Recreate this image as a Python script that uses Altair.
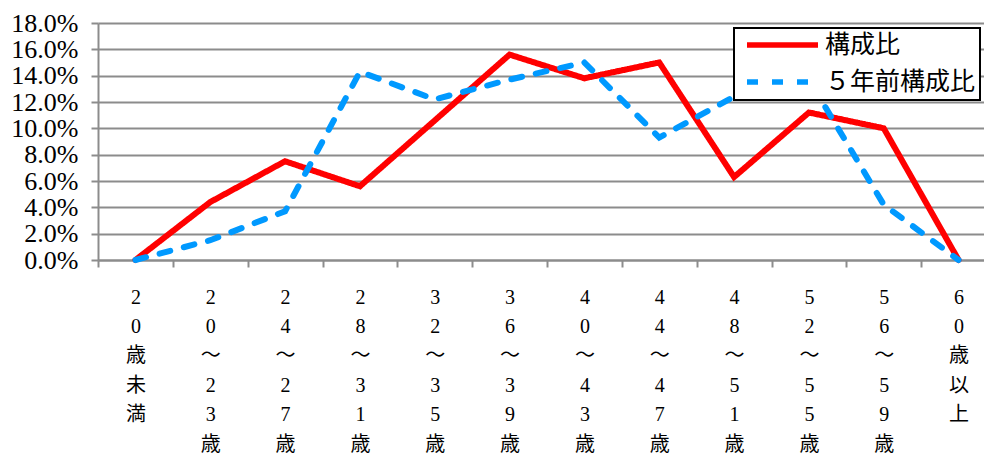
import altair as alt
import pandas as pd

categories = ["20歳未満", "20～23歳", "24～27歳", "28～31歳", "32～35歳", "36～39歳",
              "40～43歳", "44～47歳", "48～51歳", "52～55歳", "56～59歳", "60歳以上"]
series_names = ["構成比", "５年前構成比"]
current = [0.0, 4.4, 7.5, 5.6, 10.6, 15.6, 13.8, 15.0, 6.3, 11.2, 10.0, 0.0]
five_years_ago = [0.0, 1.5, 3.7, 14.3, 12.2, 13.7, 15.0, 9.3, 12.4, 13.7, 4.2, 0.0]
y_ticks = [0.0, 0.02, 0.04, 0.06, 0.08, 0.10, 0.12, 0.14, 0.16, 0.18]

rows = []
for name, vals in zip(series_names, [current, five_years_ago]):
    for c, v in zip(categories, vals):
        rows.append({"cat": c, "series": name, "value": v / 100})
df = pd.DataFrame(rows)

FONT = "Liberation Serif, Noto Sans CJK JP"
GRAY = "#8c8c8c"


def make_legend():
    return alt.Legend(title=None, orient="none", legendX=636, legendY=5,
                      symbolType="M-0.8,0H13.4", symbolSize=100,
                      symbolStrokeWidth=5.5, labelFontSize=25, labelFont=FONT,
                      labelColor="black", labelOffset=61.5, rowPadding=11,
                      padding=4.5, strokeColor="black", fillColor="white",
                      labelLimit=0)


chart = alt.Chart(df).mark_line(strokeWidth=6, strokeCap="round").encode(
    x=alt.X("cat:N", sort=categories, bandPosition=0.5,
            scale=alt.Scale(type="band", range=[0, 898], paddingInner=0, paddingOuter=0),
            axis=alt.Axis(title=None, labelAngle=0, tickBand="extent", grid=False,
                          labelExpr="split(datum.label, '')", labelFont=FONT,
                          labelFontSize=20, labelLineHeight=29.4, labelBaseline="top",
                          labelPadding=20, tickSize=7, labelColor="black")),
    y=alt.Y("value:Q", scale=alt.Scale(domain=[0, 0.18], nice=False, zero=True),
            axis=alt.Axis(title=None, values=y_ticks, format=".1%", labelFont=FONT,
                          labelFontSize=26, labelPadding=13, tickSize=7,
                          labelColor="black", grid=True)),
    color=alt.Color("series:N",
                    scale=alt.Scale(domain=series_names, range=["#FF0000", "#0099FF"]),
                    legend=make_legend()),
    strokeDash=alt.StrokeDash("series:N",
                              scale=alt.Scale(domain=series_names, range=[[1, 0], [11, 14]]),
                              legend=make_legend()),
).properties(
    width=886, height=237,
    autosize=alt.AutoSizeParams(type="none"),
    padding={"left": 98, "top": 23, "right": 0, "bottom": 195},
).configure_view(strokeWidth=0).configure_axis(
    domainColor=GRAY, domainWidth=2, gridColor=GRAY, gridWidth=2,
    tickColor=GRAY, tickWidth=2,
).configure_legend(strokeWidth=2)

chart.save("out.html", embed_options={"renderer": "svg", "actions": False})
